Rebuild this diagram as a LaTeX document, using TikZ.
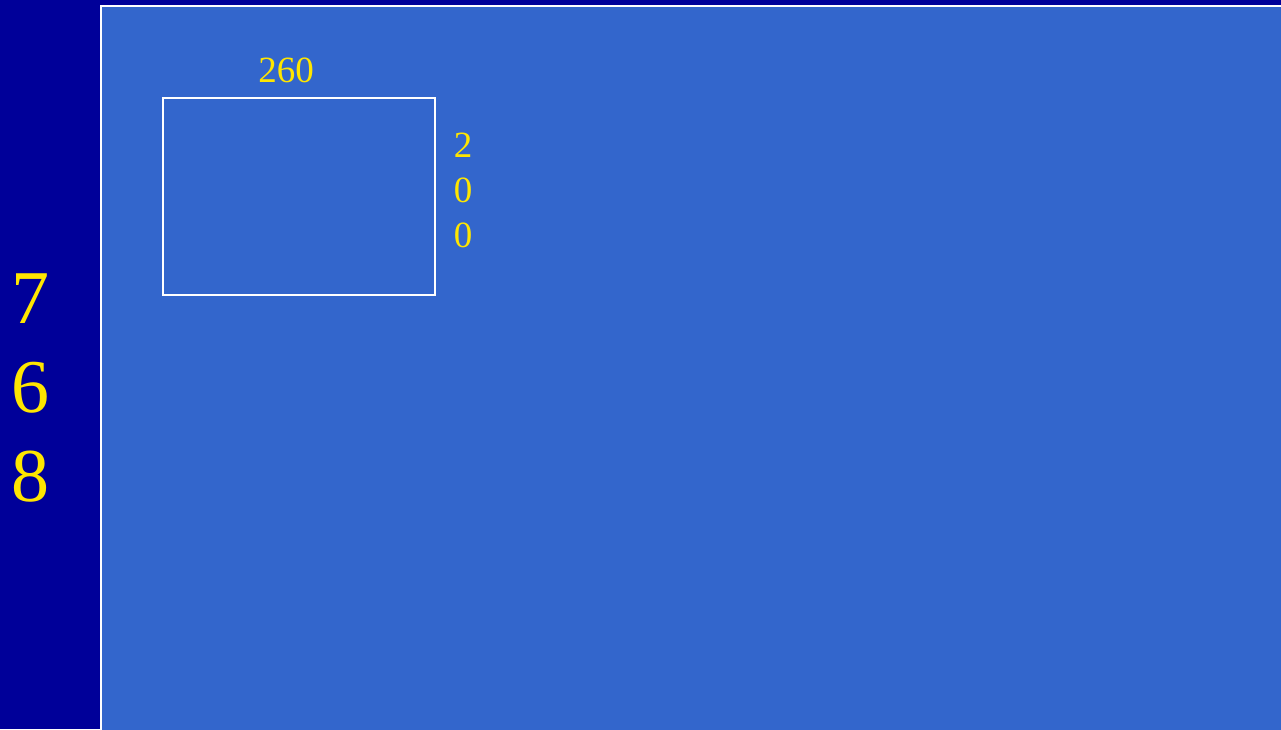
\documentclass[tikz,border=0pt]{standalone}
\usepackage{fontspec}
\setmainfont{Liberation Serif}
\usetikzlibrary{positioning}
\definecolor{deepblue}{HTML}{000099}
\definecolor{slideblue}{HTML}{3366CC}
\definecolor{numyellow}{HTML}{FFE600}
\begin{document}
\begin{tikzpicture}[x=1pt, y=-1pt,
    dimtext/.style={text=numyellow, inner sep=0pt, font=\fontsize{37}{37}\selectfont},
    bigtext/.style={text=numyellow, inner sep=0pt, font=\fontsize{76}{76}\selectfont}]
    % 背景
    \fill[deepblue] (0,0) rectangle (1281,729);
    \useasboundingbox (0,0) rectangle (1281,729);
    \fill[slideblue] (101,6) rectangle (1290,740);
    \draw[white, line width=2pt] (1290,6) -- (101,6) -- (101,740);

    % 屏幕框
    \node[draw=white, line width=1.6pt, minimum width=272pt, minimum height=197pt,
          inner sep=0pt, anchor=north west] (screen) at (162,97) {};

    % 宽度
    \node[dimtext] (width) at (286,70) {260};

    % 高度（竖排）
    \foreach \d/\idx in {2/1, 0/2, 0/3} {
        \node[dimtext] (h\idx) at (463, 100+45*\idx) {\d};
    }

    % 左侧 768
    \foreach \d/\idx in {7/1, 6/2, 8/3} {
        \node[bigtext] (v\idx) at (30, 210+89*\idx) {\d};
    }
\end{tikzpicture}
\end{document}
